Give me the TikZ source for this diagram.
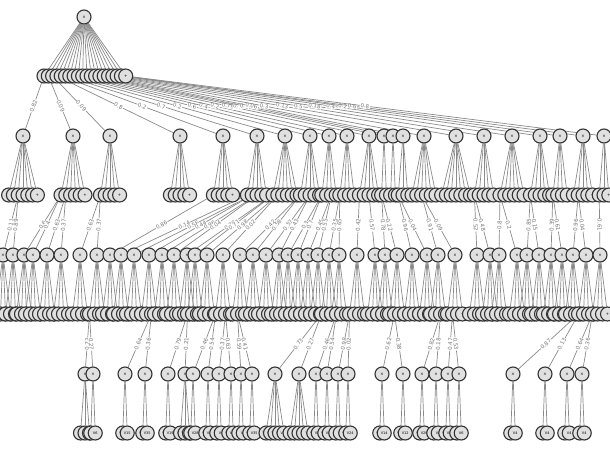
\documentclass[tikz,border=0pt]{standalone}
\usepackage{fontspec}
\setmainfont{DejaVu Sans}
\usepackage{xcolor}
\usepackage{tikz}
\usetikzlibrary{shapes}
\pgfdeclarelayer{edgelayer}
\pgfsetlayers{edgelayer,main}
\definecolor{nodefill}{HTML}{E0E0E0}
\definecolor{nodeline}{HTML}{333333}
\definecolor{edgegray}{HTML}{8A8A8A}
\definecolor{labelgray}{HTML}{777777}
\tikzset{
  spnnode/.style={circle, draw=nodeline, fill=nodefill, line width=1.1pt,
    minimum size=14pt, inner sep=0pt, font=\fontsize{4}{4}\selectfont},
  prodnode/.style={spnnode},
  sumnode/.style={spnnode},
  leafnode/.style={spnnode, font=\fontsize{3.5}{3.5}\selectfont},
  wedge/.style={draw=edgegray, line width=0.7pt},
  wlabel/.style={midway, sloped, fill=white, inner sep=0.6pt, text=labelgray,
    font=\fontsize{5.5}{5.5}\selectfont}
}
% product / sum layers: index/x/parent/weight/children
\def\prodlist{1/23/1/0.82/7, 2/73/2/0.09/6, 3/110/3/0.09/5,
    4/180/4/0.8/5, 5/223/5/0.2/5, 6/257/6/0.7/5, 7/285/7/0.2/6, 8/310/8/0.6/5,
    9/329/9/0.4/4, 10/347/10/0.2/4, 11/369/11/0.79/5, 12/384/12/0.7/2,
    13/393/13/0.1/2, 14/403/14/0.06/3, 15/424/15/0.3/6, 16/456/16/0.13/7,
    17/484/17/0.5/5, 18/512/18/0.18/6, 19/540/19/0.4/5, 20/560/20/0.2/4,
    21/583/19/0.6/5, 22/604/20/0.8/3}
\def\midlist{1/3/1-3/0.11, 2/13/1-3/0.89, 3/24/2-1/0.6,
    4/33/2-1/0.4, 5/47/2-2/0.63, 6/61/2-2/0.37, 7/80/3-1/0.63, 8/97/3-1/0.37,
    9/110/5-1/0.86, 10/121/6-1/0.14, 11/134/6-2/0.56, 12/149/6-2/0.44,
    13/162/6-3/0.96, 14/174/6-3/0.04, 15/187/7-1/0.29, 16/195/7-1/0.71,
    17/207/7-2/0.98, 18/223/7-2/0.02, 19/240/8-1/0.42, 20/253/8-1/0.58,
    21/266/8-3/0.57, 22/279/8-3/0.43, 23/288/9-1/0.3, 24/298/9-1/0.7,
    25/308/9-3/0.45, 26/318/9-3/0.55, 27/329/10-1/0.35, 28/339/10-1/0.65,
    29/357/11-1/0.42, 30/375/11-3/0.57, 31/385/12-1/0.78, 32/397/12-1/0.22,
    33/412/14-1/0.96, 34/427/14-1/0.04, 35/438/15-3/0.91, 36/455/15-3/0.09,
    37/477/17-1/0.52, 38/490/17-1/0.48, 39/499/18-1/0.8, 40/517/18-1/0.2,
    41/527/19-1/0.85, 42/539/19-1/0.15, 43/551/20-1/0.39, 44/562/20-1/0.61,
    45/573/21-2/0.96, 46/586/21-2/0.04, 47/600/22-1/0.61}
\def\lowlist{1/85/8-1/0.73/3/V6, 2/93/8-1/0.27/2/V6,
    3/125/12-3/0.64/2/V15, 4/145/12-3/0.36/2/V35, 5/168/16-1/0.79/2/V19,
    6/185/16-1/0.21/3/V12, 7/193/18-1/0.46/2/V28, 8/208/18-1/0.54/2/V31,
    9/219/18-3/0.37/2/V9, 10/231/18-3/0.63/2/V24, 11/241/19-2/0.59/2/V2,
    12/252/19-2/0.41/2/V35, 13/275/27-1/0.73/5/V21, 14/299/27-1/0.27/5/V8,
    15/316/28-2/0.46/2/V26, 16/327/28-2/0.54/2/V13, 17/338/29-1/0.98/2/V4,
    18/348/29-1/0.02/2/V24, 19/382/32-2/0.62/2/V14, 20/403/32-2/0.38/2/V12,
    21/422/35-3/0.82/2/V20, 22/436/35-3/0.18/2/V3, 23/448/36-2/0.47/2/V16,
    24/459/36-2/0.53/2/V6, 25/513/46-1/0.87/2/V4, 26/545/46-1/0.13/2/V4,
    27/567/47-1/0.64/2/V4, 28/582/47-1/0.36/2/V4}

\begin{document}
\begin{tikzpicture}[x=1pt,y=-1pt]
\path[use as bounding box] (0,0) rectangle (610,450);

% nodes
\node[prodnode] (root) at (84,17) {×};
\foreach \i in {1,...,20}
  \node[sumnode] (s\i) at ({44+4.3*(\i-1)},76) {+};
\foreach \p/\x/\s/\w/\n in \prodlist {
  \node[prodnode] (p\p) at (\x,136) {×};
  \foreach \k in {1,...,\n}
    \node[sumnode] (c\p-\k) at ({\x+4.8*(\k-(\n+1)/2)},195) {+};
}
\foreach \q/\x/\src/\w in \midlist {
  \node[prodnode] (q\q) at (\x,255) {×};
  \foreach \k in {1,...,4}
    \node[sumnode] (d\q-\k) at ({\x+5*(\k-2.5)},314) {+};
}
\foreach \r/\x/\src/\w/\n/\v in \lowlist {
  \node[prodnode] (r\r) at (\x,374) {×};
  \foreach \k in {1,...,\n}
    \node[leafnode] (v\r-\k) at ({\x+4.5*(\k-(\n+1)/2)},433) {\v};
}

% edges, all behind the nodes
\begin{pgfonlayer}{edgelayer}
\foreach \i in {1,...,20}
  \draw[wedge] (root) -- (s\i);
\foreach \p/\x/\s/\w/\n in \prodlist {
  \foreach \k in {1,...,\n}
    \draw[wedge] (p\p) -- (c\p-\k);
}
\foreach \q/\x/\src/\w in \midlist {
  \foreach \k in {1,...,4}
    \draw[wedge] (q\q) -- (d\q-\k);
}
\foreach \r/\x/\src/\w/\n/\v in \lowlist {
  \foreach \k in {1,...,\n}
    \draw[wedge] (r\r) -- (v\r-\k);
}
% weighted edges with their labels
\foreach \p/\x/\s/\w/\n in \prodlist
  \draw[wedge] (s\s) -- (p\p) node[wlabel] {\w};
\foreach \q/\x/\src/\w in \midlist
  \draw[wedge] (c\src) -- (q\q) node[wlabel] {\w};
\foreach \r/\x/\src/\w/\n/\v in \lowlist
  \draw[wedge] (d\src) -- (r\r) node[wlabel] {\w};
\end{pgfonlayer}

\end{tikzpicture}
\end{document}
